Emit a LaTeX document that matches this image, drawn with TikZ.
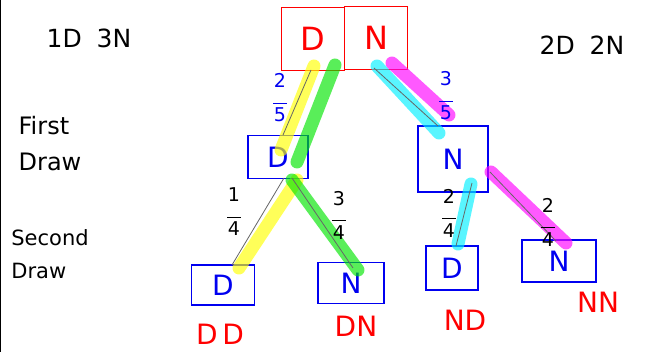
\documentclass[tikz,border=0pt]{standalone}
\usepackage{fontspec}
\setmainfont{DejaVu Sans}
\definecolor{hlyellow}{RGB}{255,255,0}
\definecolor{hlgreen}{RGB}{0,230,0}
\definecolor{hlcyan}{RGB}{0,240,255}
\definecolor{hlmagenta}{RGB}{255,0,255}
\definecolor{penred}{RGB}{255,0,0}
\definecolor{penblue}{RGB}{0,0,240}
\newcommand{\myfrac}[2]{#1\\[-4pt]\rule{14pt}{1.2pt}\\[-2pt]#2}
\begin{document}
\begin{tikzpicture}[x=1pt,y=-1pt,
  redbox/.style={draw=penred,line width=1.5pt,minimum width=63pt,minimum height=63pt,inner sep=0pt,text=penred,font=\fontsize{32}{34}\selectfont},
  bluebox/.style={draw=penblue,line width=1.5pt,inner sep=0pt,text=penblue,font=\fontsize{28}{30}\selectfont},
  lbl/.style={text=penred,font=\fontsize{28}{30}\selectfont},
  side/.style={text=black,font=\fontsize{24}{36}\selectfont,align=left},
  frac/.style={font=\fontsize{19}{20}\selectfont,inner sep=1pt,align=center},
  branch/.style={draw=gray!80!black,line width=0.8pt},
  hl/.style={line width=13pt,line cap=round,opacity=0.65}]
\useasboundingbox (0,0) rectangle (654,352);
\fill[white] (0,0) rectangle (654,352);
\draw[black,line width=1pt] (0.5,0) -- (0.5,352);
% top boxes
\node[redbox] (tD) at (313,39) {D};
\node[redbox] (tN) at (376,38) {N};
% first draw
\node[bluebox,minimum width=60pt,minimum height=43pt] (fD) at (278,157) {D};
\node[bluebox,minimum width=70pt,minimum height=66pt] (fN) at (453,159) {N};
% second draw
\node[bluebox,minimum width=63pt,minimum height=40pt] (dd) at (223,285) {D};
\node[bluebox,minimum width=66pt,minimum height=41pt] (dn) at (351,283) {N};
\node[bluebox,minimum width=52pt,minimum height=44pt] (nd) at (452,268) {D};
\node[bluebox,minimum width=74pt,minimum height=42pt] (nn) at (559,261) {N};
% labels
\node[lbl] (lDD) at (220,334) {D\,D};
\node[lbl] (lDN) at (356,326) {DN};
\node[lbl] (lND) at (465,320) {ND};
\node[lbl] (lNN) at (598,302) {NN};
\node[side,font=\fontsize{25}{27}\selectfont] (cnt1) at (89,38) {1D\; 3N};
\node[side,font=\fontsize{25}{27}\selectfont] (cnt2) at (582,45) {2D\; 2N};
\node[side] (first) at (50,144) {First\\Draw};
\node[side,font=\fontsize{21}{33}\selectfont] (second) at (50,254) {Second\\Draw};
% coordinates for branch ends
\coordinate (a1) at (311,70);
\coordinate (a2) at (283,135);
\coordinate (b1) at (374,68);
\coordinate (b2) at (438,126);
\coordinate (c1) at (284,178);
\coordinate (c2) at (232,265);
\coordinate (d1) at (292,178);
\coordinate (d2) at (353,268);
\coordinate (e1) at (472,183);
\coordinate (e2) at (456,246);
\coordinate (f1) at (490,172);
\coordinate (f2) at (556,241);
% highlighter strokes
\draw[hl,hlyellow] (314,66) -- (281,150);
\draw[hl,hlgreen] (335,65) -- (297,162);
\draw[hl,hlcyan] (377,66) -- (439,133);
\draw[hl,hlmagenta] (392,63) -- (449,115);
\draw[hl,hlyellow] (297,180) -- (239,268);
\draw[hl,hlgreen] (292,180) -- (358,270);
\draw[hl,hlcyan] (471,184) -- (458,244);
\draw[hl,hlmagenta] (491,172) -- (566,243);
% branches
\draw[branch] (a1) -- (a2);
\draw[branch] (b1) -- (b2);
\draw[branch] (c1) -- (c2);
\draw[branch] (d1) -- (d2);
\draw[branch] (e1) -- (e2);
\draw[branch] (f1) -- (f2);
% fractions
\node[frac,text=penblue] (p1) at (280,98) {\myfrac{2}{5}};
\node[frac,text=penblue] (p2) at (446,96) {\myfrac{3}{5}};
\node[frac] (p3) at (234,212) {\myfrac{1}{4}};
\node[frac] (p4) at (339,215) {\myfrac{3}{4}};
\node[frac] (p5) at (449,213) {\myfrac{2}{4}};
\node[frac] (p6) at (548,222) {\myfrac{2}{4}};
\end{tikzpicture}
\end{document}
